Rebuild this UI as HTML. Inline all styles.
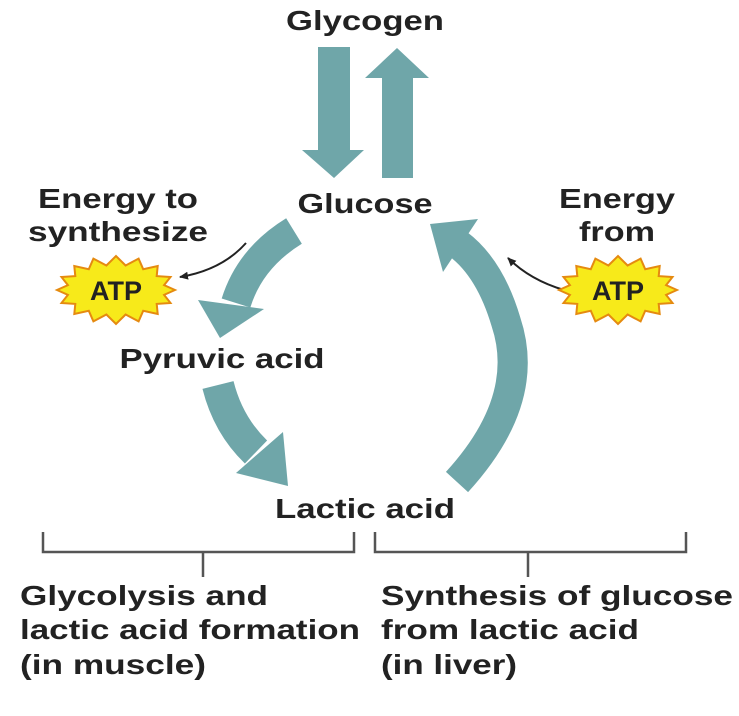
<!DOCTYPE html>
<html><head><meta charset="utf-8"><style>
html,body{margin:0;padding:0;background:#fff;}
svg{display:block;}
text{font-family:"Liberation Sans",Arial,sans-serif;font-weight:bold;fill:#222;}
</style></head><body>
<svg id="s" width="739" height="716" viewBox="0 0 739 716" xmlns="http://www.w3.org/2000/svg">
<defs>
<marker id="ah" markerWidth="10" markerHeight="10" refX="8" refY="5" orient="auto" markerUnits="userSpaceOnUse">
<path d="M0,1 L9,5 L0,9 Z" fill="#222"/></marker>
</defs>
<g fill="#6fa6a9" stroke="none">
<polygon points="318,47 350,47 350,150 364,150 334,178 302,150 318,150"/>
<polygon points="382,178 413,178 413,78 429,78 397,48 365,78 382,78"/>
</g>
<g fill="none" stroke="#6fa6a9">
<path d="M294,231 Q250,258 236,303" stroke-width="30"/>
<path d="M218,385 Q228,425 256,452" stroke-width="32"/>
<path d="M457,482 Q532,400 506,322 Q490,268 458,244" stroke-width="30"/>
</g>
<g fill="#6fa6a9">
<polygon points="198,300 264,309 220,338"/>
<polygon points="283,432 236,473 288,486"/>
<polygon points="478,219 443,272 430,224"/>
</g>
<path d="M246,243 Q222,270 180,277" fill="none" stroke="#222" stroke-width="2" marker-end="url(#ah)"/>
<path d="M564,290 Q530,280 508,258" fill="none" stroke="#222" stroke-width="2" marker-end="url(#ah)"/>
<polygon id="st1" fill="#f7ea1a" stroke="#e58a10" stroke-width="2"/>
<polygon id="st2" fill="#f7ea1a" stroke="#e58a10" stroke-width="2"/>
<text x="116" y="300" font-size="27" text-anchor="middle">ATP</text>
<text x="618" y="300" font-size="27" text-anchor="middle">ATP</text>
<g font-size="28">
<text x="365" y="30" text-anchor="middle" textLength="158" lengthAdjust="spacingAndGlyphs">Glycogen</text>
<text x="365" y="213" text-anchor="middle" textLength="135" lengthAdjust="spacingAndGlyphs">Glucose</text>
<text x="118" y="208" text-anchor="middle" textLength="160" lengthAdjust="spacingAndGlyphs">Energy to</text>
<text x="118" y="241" text-anchor="middle" textLength="180" lengthAdjust="spacingAndGlyphs">synthesize</text>
<text x="617" y="208" text-anchor="middle" textLength="116" lengthAdjust="spacingAndGlyphs">Energy</text>
<text x="617" y="241" text-anchor="middle" textLength="76" lengthAdjust="spacingAndGlyphs">from</text>
<text x="222" y="368" text-anchor="middle" textLength="205" lengthAdjust="spacingAndGlyphs">Pyruvic acid</text>
<text x="365" y="518" text-anchor="middle" textLength="180" lengthAdjust="spacingAndGlyphs">Lactic acid</text>
</g>
<g fill="none" stroke="#555" stroke-width="2.5">
<path d="M43,532 V552 H354 V532"/>
<path d="M203,552 V577"/>
<path d="M375,532 V552 H686 V532"/>
<path d="M528,552 V577"/>
</g>
<g font-size="28">
<text x="20" y="605" textLength="248" lengthAdjust="spacingAndGlyphs">Glycolysis and</text>
<text x="20" y="639" textLength="340" lengthAdjust="spacingAndGlyphs">lactic acid formation</text>
<text x="20" y="674" textLength="186" lengthAdjust="spacingAndGlyphs">(in muscle)</text>
<text x="381" y="605" textLength="352" lengthAdjust="spacingAndGlyphs">Synthesis of glucose</text>
<text x="381" y="639" textLength="258" lengthAdjust="spacingAndGlyphs">from lactic acid</text>
<text x="381" y="674" textLength="136" lengthAdjust="spacingAndGlyphs">(in liver)</text>
</g>
</svg>
<script>
function star(id,cx,cy){var p=[],n=16;for(var i=0;i<n*2;i++){var a=Math.PI*i/n;var rx=i%2?49:59,ry=i%2?25:34;p.push((cx+rx*Math.cos(a)).toFixed(1)+","+(cy+ry*Math.sin(a)).toFixed(1));}document.getElementById(id).setAttribute("points",p.join(" "));}
star("st1",116,290);star("st2",618,290);
</script>
</body></html>
